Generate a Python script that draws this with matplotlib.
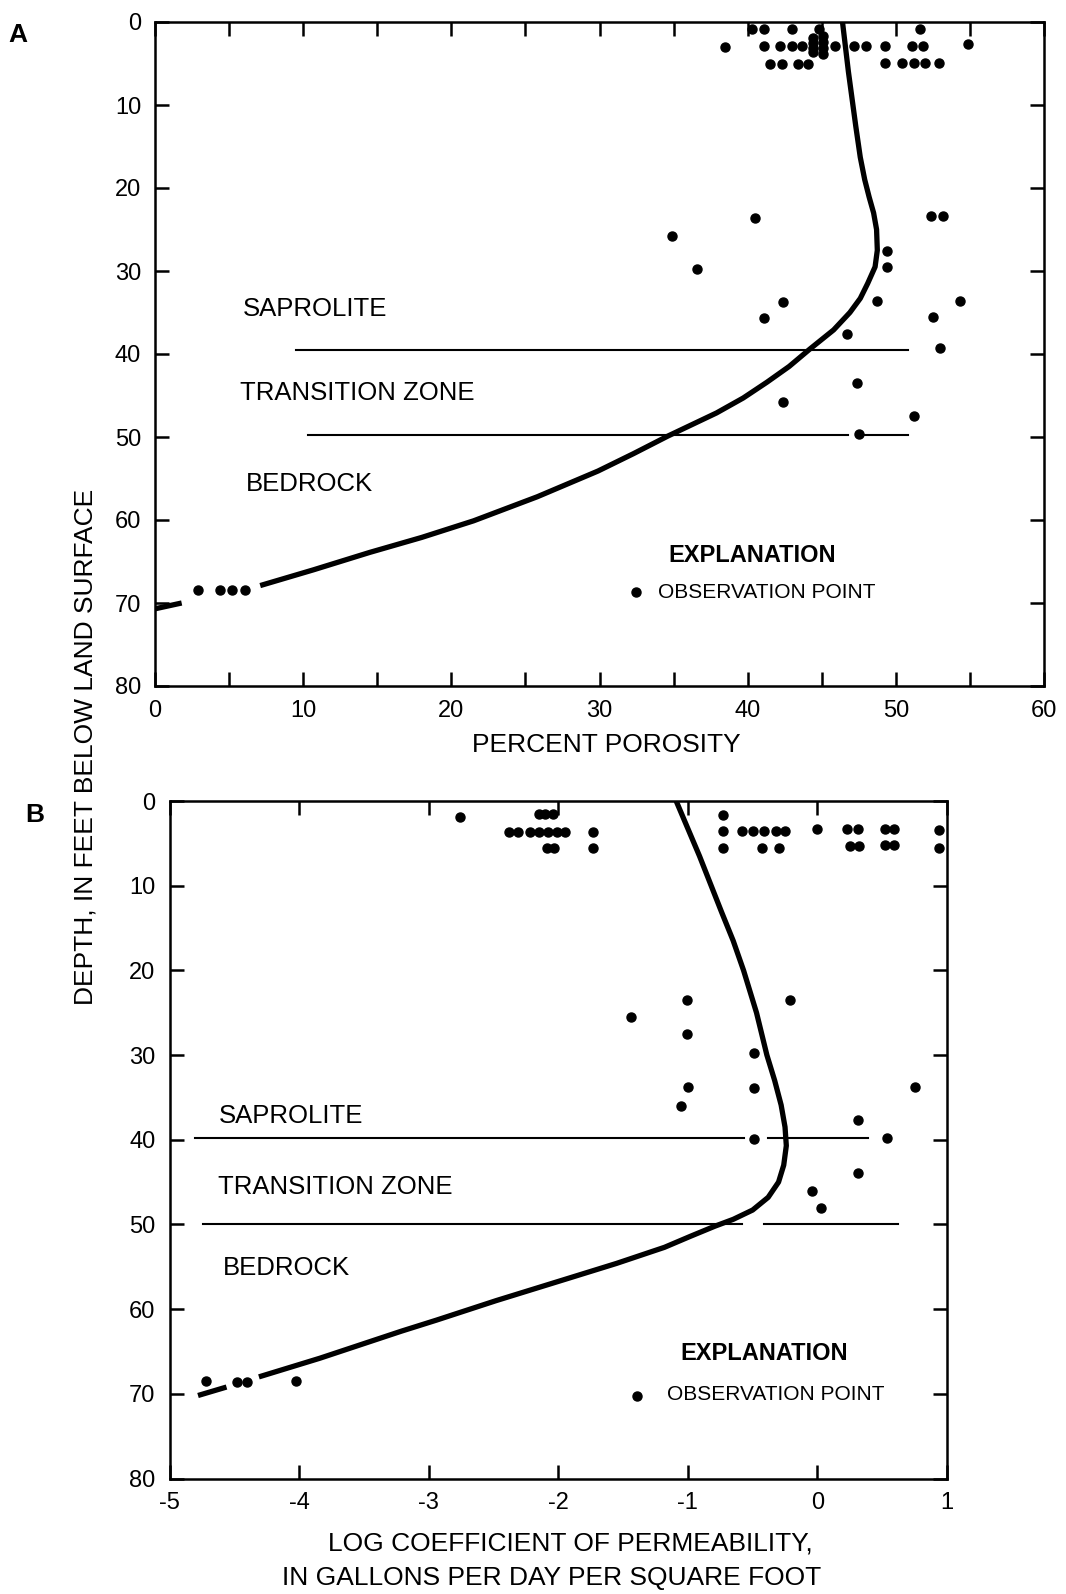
"""
Porosity and permeability vs depth profiles (panels A and B), redrawn from the scan.
Output: out.png
"""
import matplotlib

matplotlib.use("Agg")
import matplotlib.pyplot as plt  # noqa: E402

W, H = 1066, 1594

# ---- panel A: percent porosity ----
a_obs_x = [40.3, 41.1, 43.0, 44.8, 51.6,
           44.4, 44.4, 44.4, 44.4, 45.1, 45.1, 45.1, 45.1,
           38.5, 41.1, 42.2, 43.0, 43.7, 45.9, 47.2, 48.0, 49.3, 51.1, 51.8, 54.9,
           41.5, 42.3, 43.4, 44.1, 49.3, 50.4, 51.2, 52.0, 52.9,
           40.5, 34.9, 36.6, 42.4, 41.1, 52.4, 53.2, 49.4, 49.4, 48.7, 54.3,
           52.5, 46.7, 53.0, 47.4, 42.4, 51.2, 47.5,
           2.9, 4.4, 5.2, 6.1]
a_obs_d = [0.8, 0.8, 0.9, 0.9, 0.8,
           1.9, 2.5, 3.1, 3.6, 1.7, 2.4, 3.1, 3.8,
           3.0, 2.9, 2.9, 2.9, 2.9, 2.9, 2.9, 2.9, 2.9, 2.9, 2.9, 2.7,
           5.0, 5.0, 5.0, 5.0, 4.9, 4.9, 4.9, 4.9, 4.9,
           23.6, 25.8, 29.7, 33.7, 35.7, 23.4, 23.4, 27.6, 29.5, 33.6, 33.6,
           35.6, 37.6, 39.3, 43.5, 45.8, 47.5, 49.6,
           68.4, 68.4, 68.4, 68.4]
a_curve_x = [46.4, 46.8, 47.3, 47.6, 47.9, 48.2, 48.5, 48.7, 48.75, 48.6, 48.1,
             47.6, 46.9, 45.8, 44.2, 42.8, 41.3, 39.7, 37.9, 34.6, 32.3, 29.9,
             25.8, 21.5, 18.0, 14.5, 10.7, 7.1]
a_curve_d = [0.0, 6.0, 12.6, 16.3, 19.0, 21.1, 23.0, 25.0, 27.5, 29.5, 31.5,
             33.3, 35.0, 37.1, 39.4, 41.5, 43.4, 45.3, 47.1, 49.9, 52.0, 54.1,
             57.2, 60.1, 62.1, 63.9, 66.0, 67.9]
a_tail_x = [0.0, 1.8]
a_tail_d = [70.7, 70.0]
a_top_line = [(9.5, 50.8)]
a_top_depth = 39.5
a_low_line = [(10.3, 46.8), (47.9, 50.8)]
a_low_depth = 49.8
a_xticks = list(range(0, 61, 5))
a_xlabels = [str(v) if v % 10 == 0 else "" for v in a_xticks]

# ---- panel B: log coefficient of permeability ----
b_obs_x = [-2.76, -2.15, -2.10, -2.04, -0.73,
           -2.38, -2.31, -2.22, -2.15, -2.08, -2.01, -1.95, -1.73,
           -0.73, -0.58, -0.50, -0.41, -0.32, -0.25, 0.00, 0.23, 0.31, 0.52, 0.59, 0.94,
           -2.09, -2.03, -1.73, -0.73, -0.43, -0.30, 0.25, 0.32, 0.52, 0.59, 0.94,
           -1.01, -0.21, -1.44, -1.01, -0.49, -1.00, -1.05, -0.49, 0.75, 0.31,
           -0.49, 0.54, 0.31, -0.04, 0.03,
           -4.72, -4.48, -4.40, -4.02]
b_obs_d = [1.9, 1.5, 1.5, 1.5, 1.6,
           3.7, 3.7, 3.7, 3.7, 3.7, 3.7, 3.7, 3.7,
           3.6, 3.6, 3.6, 3.6, 3.6, 3.6, 3.3, 3.3, 3.3, 3.3, 3.3, 3.4,
           5.6, 5.6, 5.6, 5.5, 5.5, 5.5, 5.3, 5.3, 5.2, 5.2, 5.6,
           23.5, 23.5, 25.5, 27.5, 29.7, 33.8, 36.0, 33.9, 33.8, 37.7,
           39.9, 39.8, 43.9, 46.0, 48.1,
           68.5, 68.6, 68.6, 68.5]
b_curve_x = [-1.09, -0.91, -0.74, -0.65, -0.57, -0.47, -0.39, -0.33, -0.28, -0.25,
             -0.24, -0.26, -0.30, -0.38, -0.50, -0.65, -0.79, -0.98, -1.18, -1.55,
             -1.93, -2.48, -2.94, -3.21, -3.84, -4.31]
b_curve_d = [0.0, 6.5, 13.1, 16.5, 20.0, 25.0, 30.0, 33.0, 35.9, 38.5,
             40.7, 43.0, 45.0, 46.8, 48.3, 49.4, 50.2, 51.4, 52.7, 54.6,
             56.4, 59.0, 61.3, 62.6, 65.8, 68.0]
b_tail_x = [-4.78, -4.56]
b_tail_d = [70.2, 69.2]
b_top_line = [(-4.80, -0.57), (-0.38, 0.39)]
b_top_depth = 39.8
b_low_line = [(-4.74, -0.58), (-0.41, 0.62)]
b_low_depth = 50.0
b_xticks = [-5, -4, -3, -2, -1, 0, 1]
b_xlabels = ["-5", "-4", "-3", "-2", "-1", "0", "1"]

depth_ticks = list(range(0, 81, 10))

plt.rcParams["font.family"] = ["Liberation Sans", "DejaVu Sans"]


def fx(px):
    return px / W


def fy(py):
    return 1 - py / H


def label(fig, x, y, s, size, ha="left", weight="normal", rot=0):
    # y is the visual middle of capital letters, in pixels from the top
    if rot:
        fig.text(fx(x), fy(y), s, fontsize=size, ha="center", va="center",
                 rotation=rot, weight=weight)
        return
    base = y + 0.36 * size * 100 / 72
    fig.text(fx(x), fy(base), s, fontsize=size, ha=ha, va="baseline", weight=weight)


def style_axes(ax, xlim, xticks, xlabels):
    ax.set_xlim(*xlim)
    ax.set_ylim(80, 0)
    ax.set_xticks(xticks)
    ax.set_xticklabels(xlabels)
    ax.set_yticks(depth_ticks)
    ax.set_yticklabels([str(v) for v in depth_ticks])
    ax.tick_params(direction="in", length=10, width=1.8, labelsize=17, pad=10,
                   top=True, right=True)
    for sp in ax.spines.values():
        sp.set_linewidth(1.8)


def draw_panel(ax, obs_x, obs_d, cx, cd, tx, td, lines):
    for segs, depth in lines:
        for x0, x1 in segs:
            ax.plot([x0, x1], [depth, depth], color="black", lw=1.5)
    ax.plot(cx, cd, color="black", lw=3.8, solid_joinstyle="round",
            solid_capstyle="butt")
    ax.plot(tx, td, color="black", lw=3.8, solid_capstyle="butt")
    ax.plot(obs_x, obs_d, "o", color="black", ms=6.5, linestyle="none", clip_on=False)


fig = plt.figure(figsize=(W / 100, H / 100), dpi=100)

ax_a = fig.add_axes([fx(155), fy(686), (1044 - 155) / W, (686 - 22) / H])
style_axes(ax_a, (0, 60), a_xticks, a_xlabels)
draw_panel(ax_a, a_obs_x, a_obs_d, a_curve_x, a_curve_d, a_tail_x, a_tail_d,
           [(a_top_line, a_top_depth), (a_low_line, a_low_depth)])

ax_b = fig.add_axes([fx(169.5), fy(1478.5), (947 - 169.5) / W, (1478.5 - 801) / H])
style_axes(ax_b, (-5, 1), b_xticks, b_xlabels)
draw_panel(ax_b, b_obs_x, b_obs_d, b_curve_x, b_curve_d, b_tail_x, b_tail_d,
           [(b_top_line, b_top_depth), (b_low_line, b_low_depth)])

# panel A labels
label(fig, 18, 32, "A", 19, ha="center", weight="bold")
label(fig, 243, 307, "SAPROLITE", 18.5)
label(fig, 240, 391, "TRANSITION ZONE", 18.5)
label(fig, 246, 482, "BEDROCK", 18.5)
label(fig, 752, 553, "EXPLANATION", 17, ha="center", weight="bold")
ax_a.plot([fx(636)], [fy(592)], "o", color="black", ms=6.5,
          transform=fig.transFigure, clip_on=False)
label(fig, 658, 590, "OBSERVATION POINT", 15)
label(fig, 606, 743, "PERCENT POROSITY", 19, ha="center")

label(fig, 86, 747, "DEPTH, IN FEET BELOW LAND SURFACE", 19, rot=90)

# panel B labels
label(fig, 35, 812, "B", 19, ha="center", weight="bold")
label(fig, 219, 1114, "SAPROLITE", 18.5)
label(fig, 218, 1185, "TRANSITION ZONE", 18.5)
label(fig, 223, 1266, "BEDROCK", 18.5)
label(fig, 764, 1351, "EXPLANATION", 17, ha="center", weight="bold")
ax_b.plot([fx(637)], [fy(1396)], "o", color="black", ms=6.5,
          transform=fig.transFigure, clip_on=False)
label(fig, 667, 1392, "OBSERVATION POINT", 15)
label(fig, 570, 1541, "LOG COEFFICIENT OF PERMEABILITY,", 19, ha="center")
label(fig, 552, 1575, "IN GALLONS PER DAY PER SQUARE FOOT", 19, ha="center")

fig.savefig("out.png", dpi=100)
